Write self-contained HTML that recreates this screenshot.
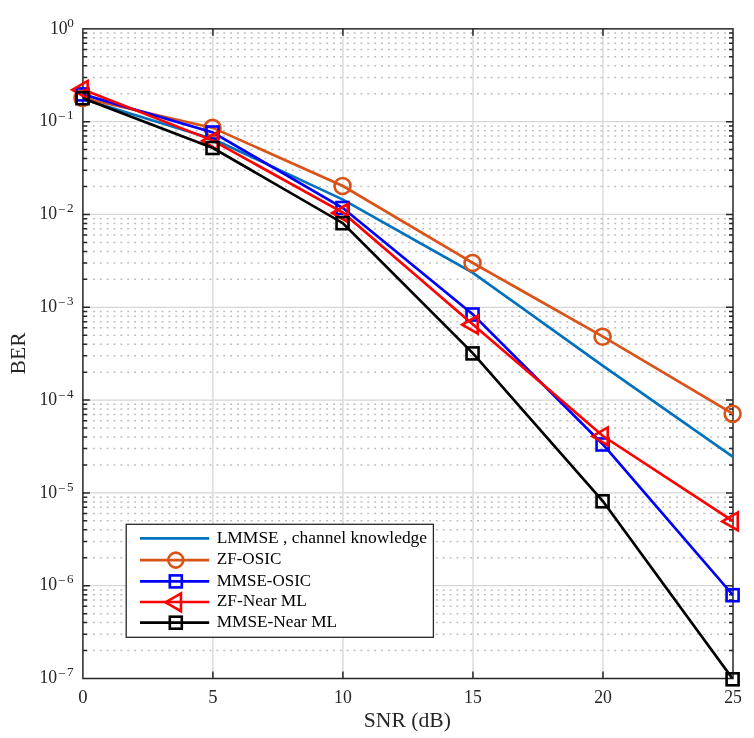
<!DOCTYPE html>
<html lang="en"><head><meta charset="utf-8"><title>BER vs SNR</title>
<style>html,body{margin:0;padding:0;background:#fff}body{width:754px;height:738px;overflow:hidden}svg{display:block}text{font-family:"Liberation Serif","DejaVu Serif",serif;fill:#262626}.tk{font-size:18.67px}.sup{font-size:13.1px}.lb{font-size:20.5px}.lg{font-size:16.6px;fill:#000}</style></head><body>
<svg role="img" aria-label="BER versus SNR (dB)" width="754" height="738" viewBox="0 0 754 738">
<rect width="754" height="738" fill="#fff"/>
<defs><clipPath id="ax"><rect x="82.90" y="28.85" width="650.10" height="649.65"/></clipPath></defs>
<g stroke="#262626" stroke-opacity="0.29" stroke-width="1.5" stroke-dasharray="2 4.859" stroke-dashoffset="-3.14" fill="none">
<path d="M82.90 93.72H733.00"/>
<path d="M82.90 77.38H733.00"/>
<path d="M82.90 65.78H733.00"/>
<path d="M82.90 56.79H733.00"/>
<path d="M82.90 49.44H733.00"/>
<path d="M82.90 43.23H733.00"/>
<path d="M82.90 37.84H733.00"/>
<path d="M82.90 33.10H733.00"/>
<path d="M82.90 186.53H733.00"/>
<path d="M82.90 170.18H733.00"/>
<path d="M82.90 158.59H733.00"/>
<path d="M82.90 149.59H733.00"/>
<path d="M82.90 142.25H733.00"/>
<path d="M82.90 136.03H733.00"/>
<path d="M82.90 130.65H733.00"/>
<path d="M82.90 125.90H733.00"/>
<path d="M82.90 279.33H733.00"/>
<path d="M82.90 262.99H733.00"/>
<path d="M82.90 251.40H733.00"/>
<path d="M82.90 242.40H733.00"/>
<path d="M82.90 235.05H733.00"/>
<path d="M82.90 228.84H733.00"/>
<path d="M82.90 223.46H733.00"/>
<path d="M82.90 218.71H733.00"/>
<path d="M82.90 372.14H733.00"/>
<path d="M82.90 355.80H733.00"/>
<path d="M82.90 344.20H733.00"/>
<path d="M82.90 335.21H733.00"/>
<path d="M82.90 327.86H733.00"/>
<path d="M82.90 321.65H733.00"/>
<path d="M82.90 316.27H733.00"/>
<path d="M82.90 311.52H733.00"/>
<path d="M82.90 464.95H733.00"/>
<path d="M82.90 448.61H733.00"/>
<path d="M82.90 437.01H733.00"/>
<path d="M82.90 428.02H733.00"/>
<path d="M82.90 420.67H733.00"/>
<path d="M82.90 414.45H733.00"/>
<path d="M82.90 409.07H733.00"/>
<path d="M82.90 404.33H733.00"/>
<path d="M82.90 557.76H733.00"/>
<path d="M82.90 541.41H733.00"/>
<path d="M82.90 529.82H733.00"/>
<path d="M82.90 520.82H733.00"/>
<path d="M82.90 513.47H733.00"/>
<path d="M82.90 507.26H733.00"/>
<path d="M82.90 501.88H733.00"/>
<path d="M82.90 497.13H733.00"/>
<path d="M82.90 650.56H733.00"/>
<path d="M82.90 634.22H733.00"/>
<path d="M82.90 622.62H733.00"/>
<path d="M82.90 613.63H733.00"/>
<path d="M82.90 606.28H733.00"/>
<path d="M82.90 600.07H733.00"/>
<path d="M82.90 594.69H733.00"/>
<path d="M82.90 589.94H733.00"/>
</g>
<path d="M212.92 28.85V678.50M342.94 28.85V678.50M472.96 28.85V678.50M602.98 28.85V678.50M82.90 121.66H733.00M82.90 214.46H733.00M82.90 307.27H733.00M82.90 400.08H733.00M82.90 492.89H733.00M82.90 585.69H733.00" stroke="#262626" stroke-opacity="0.19" stroke-width="1.25" fill="none"/>
<g stroke="#262626" stroke-width="1.5" fill="none" stroke-linecap="butt">
<rect x="82.90" y="28.85" width="650.10" height="649.65"/>
<path d="M212.92 678.50v-7.00M212.92 28.85v7.00M342.94 678.50v-7.00M342.94 28.85v7.00M472.96 678.50v-7.00M472.96 28.85v7.00M602.98 678.50v-7.00M602.98 28.85v7.00M82.90 93.72h4.00M733.00 93.72h-4.00M82.90 77.38h4.00M733.00 77.38h-4.00M82.90 65.78h4.00M733.00 65.78h-4.00M82.90 56.79h4.00M733.00 56.79h-4.00M82.90 49.44h4.00M733.00 49.44h-4.00M82.90 43.23h4.00M733.00 43.23h-4.00M82.90 37.84h4.00M733.00 37.84h-4.00M82.90 33.10h4.00M733.00 33.10h-4.00M82.90 121.66h7.00M733.00 121.66h-7.00M82.90 186.53h4.00M733.00 186.53h-4.00M82.90 170.18h4.00M733.00 170.18h-4.00M82.90 158.59h4.00M733.00 158.59h-4.00M82.90 149.59h4.00M733.00 149.59h-4.00M82.90 142.25h4.00M733.00 142.25h-4.00M82.90 136.03h4.00M733.00 136.03h-4.00M82.90 130.65h4.00M733.00 130.65h-4.00M82.90 125.90h4.00M733.00 125.90h-4.00M82.90 214.46h7.00M733.00 214.46h-7.00M82.90 279.33h4.00M733.00 279.33h-4.00M82.90 262.99h4.00M733.00 262.99h-4.00M82.90 251.40h4.00M733.00 251.40h-4.00M82.90 242.40h4.00M733.00 242.40h-4.00M82.90 235.05h4.00M733.00 235.05h-4.00M82.90 228.84h4.00M733.00 228.84h-4.00M82.90 223.46h4.00M733.00 223.46h-4.00M82.90 218.71h4.00M733.00 218.71h-4.00M82.90 307.27h7.00M733.00 307.27h-7.00M82.90 372.14h4.00M733.00 372.14h-4.00M82.90 355.80h4.00M733.00 355.80h-4.00M82.90 344.20h4.00M733.00 344.20h-4.00M82.90 335.21h4.00M733.00 335.21h-4.00M82.90 327.86h4.00M733.00 327.86h-4.00M82.90 321.65h4.00M733.00 321.65h-4.00M82.90 316.27h4.00M733.00 316.27h-4.00M82.90 311.52h4.00M733.00 311.52h-4.00M82.90 400.08h7.00M733.00 400.08h-7.00M82.90 464.95h4.00M733.00 464.95h-4.00M82.90 448.61h4.00M733.00 448.61h-4.00M82.90 437.01h4.00M733.00 437.01h-4.00M82.90 428.02h4.00M733.00 428.02h-4.00M82.90 420.67h4.00M733.00 420.67h-4.00M82.90 414.45h4.00M733.00 414.45h-4.00M82.90 409.07h4.00M733.00 409.07h-4.00M82.90 404.33h4.00M733.00 404.33h-4.00M82.90 492.89h7.00M733.00 492.89h-7.00M82.90 557.76h4.00M733.00 557.76h-4.00M82.90 541.41h4.00M733.00 541.41h-4.00M82.90 529.82h4.00M733.00 529.82h-4.00M82.90 520.82h4.00M733.00 520.82h-4.00M82.90 513.47h4.00M733.00 513.47h-4.00M82.90 507.26h4.00M733.00 507.26h-4.00M82.90 501.88h4.00M733.00 501.88h-4.00M82.90 497.13h4.00M733.00 497.13h-4.00M82.90 585.69h7.00M733.00 585.69h-7.00M82.90 650.56h4.00M733.00 650.56h-4.00M82.90 634.22h4.00M733.00 634.22h-4.00M82.90 622.62h4.00M733.00 622.62h-4.00M82.90 613.63h4.00M733.00 613.63h-4.00M82.90 606.28h4.00M733.00 606.28h-4.00M82.90 600.07h4.00M733.00 600.07h-4.00M82.90 594.69h4.00M733.00 594.69h-4.00M82.90 589.94h4.00M733.00 589.94h-4.00"/>
</g>
<g stroke="#0072BD" fill="none" stroke-linejoin="miter">
<polyline points="82.90,99.00 212.92,139.00 342.94,199.60 472.96,272.90 602.98,365.90 733.00,456.80" stroke-width="2.67" clip-path="url(#ax)"/>
</g>
<g stroke="#D95319" fill="none" stroke-linejoin="miter">
<polyline points="82.90,98.00 212.92,127.90 342.94,186.00 472.96,263.00 602.98,336.70 733.00,413.80" stroke-width="2.67" clip-path="url(#ax)"/>
<g stroke-width="2.6"><circle cx="82.50" cy="98.00" r="8.0"/><circle cx="212.52" cy="127.90" r="8.0"/><circle cx="342.54" cy="186.00" r="8.0"/><circle cx="472.56" cy="263.00" r="8.0"/><circle cx="602.58" cy="336.70" r="8.0"/><circle cx="732.60" cy="413.80" r="8.0"/></g>
</g>
<g stroke="#0000FF" fill="none" stroke-linejoin="miter">
<polyline points="82.90,94.40 212.92,132.50 342.94,208.00 472.96,314.50 602.98,444.50 733.00,595.20" stroke-width="2.67" clip-path="url(#ax)"/>
<g stroke-width="2.6"><rect x="76.50" y="88.40" width="12" height="12"/><rect x="206.52" y="126.50" width="12" height="12"/><rect x="336.54" y="202.00" width="12" height="12"/><rect x="466.56" y="308.50" width="12" height="12"/><rect x="596.58" y="438.50" width="12" height="12"/><rect x="726.60" y="589.20" width="12" height="12"/></g>
</g>
<g stroke="#FF0000" fill="none" stroke-linejoin="miter">
<polyline points="82.90,89.50 212.92,140.60 342.94,212.70 472.96,324.40 602.98,436.00 733.00,521.10" stroke-width="2.67" clip-path="url(#ax)"/>
<g stroke-width="2.6"><path d="M72.20 89.80L87.65 80.88L87.65 98.72Z"/><path d="M202.22 140.90L217.67 131.98L217.67 149.82Z"/><path d="M332.24 213.00L347.69 204.08L347.69 221.92Z"/><path d="M462.26 324.70L477.71 315.78L477.71 333.62Z"/><path d="M592.28 436.30L607.73 427.38L607.73 445.22Z"/><path d="M722.30 521.40L737.75 512.48L737.75 530.32Z"/></g>
</g>
<g stroke="#000000" fill="none" stroke-linejoin="miter">
<polyline points="82.90,98.20 212.92,148.00 342.94,223.20 472.96,353.40 602.98,501.30 733.00,679.30" stroke-width="2.67" clip-path="url(#ax)"/>
<g stroke-width="2.6"><rect x="76.50" y="92.20" width="12" height="12"/><rect x="206.52" y="142.00" width="12" height="12"/><rect x="336.54" y="217.20" width="12" height="12"/><rect x="466.56" y="347.40" width="12" height="12"/><rect x="596.58" y="495.30" width="12" height="12"/><rect x="726.60" y="673.30" width="12" height="12"/></g>
</g>
<rect x="126.20" y="524.30" width="307.20" height="113.00" fill="#fff" stroke="#262626" stroke-width="1.3"/>
<g stroke="#0072BD" fill="none"><path d="M140 538.40H209.2" stroke-width="2.67"/>
</g>
<text class="lg" x="216.7" y="542.70" textLength="210.4" lengthAdjust="spacingAndGlyphs">LMMSE , channel knowledge</text>
<g stroke="#D95319" fill="none"><path d="M140 560.10H209.2" stroke-width="2.67"/>
<g stroke-width="2.6"><circle cx="175.80" cy="560.10" r="7.5"/></g>
</g>
<text class="lg" x="216.7" y="564.40" textLength="64.6" lengthAdjust="spacingAndGlyphs">ZF-OSIC</text>
<g stroke="#0000FF" fill="none"><path d="M140 581.40H209.2" stroke-width="2.67"/>
<g stroke-width="2.6"><rect x="169.80" y="575.40" width="12" height="12"/></g>
</g>
<text class="lg" x="216.7" y="585.70" textLength="94.5" lengthAdjust="spacingAndGlyphs">MMSE-OSIC</text>
<g stroke="#FF0000" fill="none"><path d="M140 602.00H209.2" stroke-width="2.67"/>
<g stroke-width="2.6"><path d="M165.50 602.30L180.95 593.38L180.95 611.22Z"/></g>
</g>
<text class="lg" x="216.7" y="606.30" textLength="90.2" lengthAdjust="spacingAndGlyphs">ZF-Near ML</text>
<g stroke="#000000" fill="none"><path d="M140 622.70H209.2" stroke-width="2.67"/>
<g stroke-width="2.6"><rect x="169.80" y="616.70" width="12" height="12"/></g>
</g>
<text class="lg" x="216.7" y="627.00" textLength="120.4" lengthAdjust="spacingAndGlyphs">MMSE-Near ML</text>
<text class="tk" x="82.90" y="702.8" text-anchor="middle">0</text>
<text class="tk" x="212.92" y="702.8" text-anchor="middle">5</text>
<text class="tk" x="342.94" y="702.8" text-anchor="middle" textLength="17.7" lengthAdjust="spacingAndGlyphs">10</text>
<text class="tk" x="472.96" y="702.8" text-anchor="middle" textLength="17.7" lengthAdjust="spacingAndGlyphs">15</text>
<text class="tk" x="602.98" y="702.8" text-anchor="middle" textLength="17.7" lengthAdjust="spacingAndGlyphs">20</text>
<text class="tk" x="733.00" y="702.8" text-anchor="middle" textLength="17.7" lengthAdjust="spacingAndGlyphs">25</text>
<text class="tk" x="67.6" y="33.60" text-anchor="end" textLength="17.7" lengthAdjust="spacingAndGlyphs">10</text><text class="sup" x="67.3" y="26.60">0</text>
<text class="tk" x="57.2" y="126.41" text-anchor="end" textLength="17.7" lengthAdjust="spacingAndGlyphs">10</text><text class="sup" x="58.0" y="121.31" textLength="15.6">−<tspan dy="-1.9">1</tspan></text>
<text class="tk" x="57.2" y="219.21" text-anchor="end" textLength="17.7" lengthAdjust="spacingAndGlyphs">10</text><text class="sup" x="58.0" y="214.11" textLength="15.6">−<tspan dy="-1.9">2</tspan></text>
<text class="tk" x="57.2" y="312.02" text-anchor="end" textLength="17.7" lengthAdjust="spacingAndGlyphs">10</text><text class="sup" x="58.0" y="306.92" textLength="15.6">−<tspan dy="-1.9">3</tspan></text>
<text class="tk" x="57.2" y="404.83" text-anchor="end" textLength="17.7" lengthAdjust="spacingAndGlyphs">10</text><text class="sup" x="58.0" y="399.73" textLength="15.6">−<tspan dy="-1.9">4</tspan></text>
<text class="tk" x="57.2" y="497.64" text-anchor="end" textLength="17.7" lengthAdjust="spacingAndGlyphs">10</text><text class="sup" x="58.0" y="492.54" textLength="15.6">−<tspan dy="-1.9">5</tspan></text>
<text class="tk" x="57.2" y="590.44" text-anchor="end" textLength="17.7" lengthAdjust="spacingAndGlyphs">10</text><text class="sup" x="58.0" y="585.34" textLength="15.6">−<tspan dy="-1.9">6</tspan></text>
<text class="tk" x="57.2" y="683.25" text-anchor="end" textLength="17.7" lengthAdjust="spacingAndGlyphs">10</text><text class="sup" x="58.0" y="678.15" textLength="15.6">−<tspan dy="-1.9">7</tspan></text>
<text class="lb" x="363.8" y="727.4" textLength="87.2" lengthAdjust="spacingAndGlyphs">SNR (dB)</text>
<text class="lb" transform="translate(25.2 353.4) rotate(-90)" x="-21" textLength="42" lengthAdjust="spacingAndGlyphs">BER</text>
</svg></body></html>
